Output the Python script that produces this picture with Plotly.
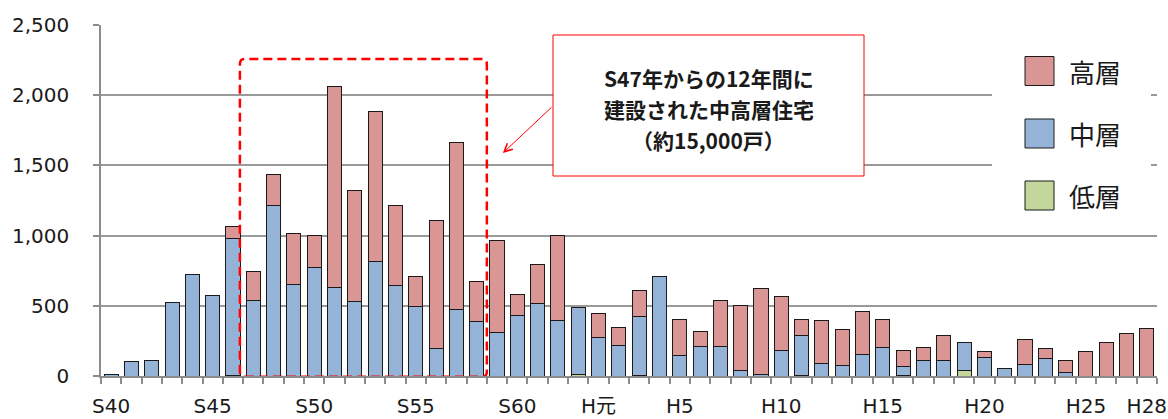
import plotly.graph_objects as go

categories = [f"S{n}" for n in range(40, 64)] + ["H元"] + [f"H{n}" for n in range(2, 29)]

# 低層 (low-rise), 中層 (mid-rise), 高層 (high-rise) — dwelling units per year
low_rise = [0, 0, 0, 0, 0, 0, 3, 0, 0, 0,
            0, 0, 0, 0, 0, 0, 0, 0, 0, 0,
            0, 0, 0, 12, 0, 0, 3, 0, 0, 0,
            0, 0, 0, 0, 5, 0, 0, 0, 0, 4,
            0, 0, 36, 0, 0, 0, 0, 0, 0, 0,
            0, 0]
mid_rise = [12, 106, 112, 527, 726, 570, 973, 539, 1212, 655,
            774, 632, 534, 819, 646, 498, 195, 472, 387, 312,
            430, 515, 396, 479, 276, 216, 424, 712, 145, 209,
            209, 38, 12, 185, 282, 88, 78, 152, 204, 62,
            111, 107, 204, 133, 57, 85, 124, 26, 0, 0,
            0, 0]
high_rise = [0, 0, 0, 0, 0, 0, 92, 207, 226, 361,
             228, 1431, 788, 1068, 570, 209, 914, 1190, 288, 654,
             152, 276, 608, 0, 166, 126, 183, 0, 254, 111,
             327, 465, 613, 383, 117, 309, 254, 306, 195, 119,
             93, 178, 0, 38, 0, 176, 71, 83, 173, 237,
             301, 340]

tick_labels = ["S40", "S45", "S50", "S55", "S60", "H元", "H5", "H10", "H15", "H20", "H25", "H28"]
y_ticks = [0, 500, 1000, 1500, 2000, 2500]

series_names = ["低層", "中層", "高層"]
series_colors = ["#C3D69B", "#95B3D7", "#D99694"]

callout_lines = ["S47年からの12年間に", "建設された中高層住宅", "（約15,000戸）"]

x = list(range(len(categories)))

W, H = 1168, 419
ML, MR, MT, MB = 101, 11, 25, 43
PW, PH = W - ML - MR, H - MT - MB


def px_x(p):
    return (p - ML) / PW


def px_y(p):
    return (H - MB - p) / PH


def nz(vals):
    return [v if v else None for v in vals]


fig = go.Figure()
for name, vals, col in zip(series_names, [low_rise, mid_rise, high_rise], series_colors):
    fig.add_trace(go.Bar(
        x=x, y=nz(vals), name=name,
        marker=dict(color=col, line=dict(color="#1a1a1a", width=1)),
        customdata=categories,
        hovertemplate="%{customdata} " + name + ": %{y}<extra></extra>",
    ))

FONT = "Verdana, DejaVu Sans, Noto Sans CJK JP, sans-serif"
CJK = "Noto Sans CJK JP, sans-serif"

fig.update_layout(
    width=W, height=H,
    margin=dict(l=ML, r=MR, t=MT, b=MB, autoexpand=False),
    barmode="stack", bargap=0.31,
    plot_bgcolor="white", paper_bgcolor="white",
    showlegend=False,
    font=dict(family=FONT, size=20, color="#1a1a1a"),
    xaxis=dict(
        range=[-0.5, len(categories) - 0.5],
        tickmode="array",
        tickvals=[categories.index(t) for t in tick_labels],
        ticktext=tick_labels,
        ticks="", showgrid=False,
        showline=True, linecolor="#8c8c8c", linewidth=1.5,
        ticklabelstandoff=11, automargin=False, ticklabeloverflow="allow",
        tickfont=dict(size=20, family=FONT),
        minor=dict(tickmode="linear", tick0=-0.5, dtick=1, ticks="outside",
                   ticklen=6, tickcolor="#8c8c8c", tickwidth=1.5, showgrid=False),
        zeroline=False,
    ),
    yaxis=dict(
        range=[0, 2500], tickmode="array", tickvals=y_ticks,
        tickformat=",", ticks="outside", ticklen=6, tickcolor="#8c8c8c", tickwidth=1.5,
        showgrid=True, gridcolor="#9a9a9a", gridwidth=1.5,
        showline=True, linecolor="#8c8c8c", linewidth=1.5,
        ticklabelstandoff=20, automargin=False,
        tickfont=dict(size=20, family=FONT),
        zeroline=False,
    ),
)

# dashed highlight rectangle with rounded corners (S47–S58)
x0, x1, y0, y1 = 6.34, 18.5, -6, 2258
rx, ry = 0.25, 36
path = (f"M {x0+rx},{y0} L {x1-rx},{y0} Q {x1},{y0} {x1},{y0+ry} "
        f"L {x1},{y1-ry} Q {x1},{y1} {x1-rx},{y1} L {x0+rx},{y1} "
        f"Q {x0},{y1} {x0},{y1-ry} L {x0},{y0+ry} Q {x0},{y0} {x0+rx},{y0} Z")
fig.add_shape(type="path", path=path, xref="x", yref="y", layer="above",
              line=dict(color="#FF0000", width=2.5, dash="9px,5px"))

# callout box
fig.add_shape(type="rect", xref="paper", yref="paper",
              x0=px_x(553), x1=px_x(864), y0=px_y(176), y1=px_y(35),
              line=dict(color="#FF0000", width=1), fillcolor="white", layer="above")
for line, yp in zip(callout_lines, [78, 109, 140]):
    fig.add_annotation(xref="paper", yref="paper", x=px_x(708.5), y=px_y(yp),
                       xanchor="center", yanchor="middle",
                       text=f"<b>{line}</b>", showarrow=False,
                       font=dict(family=CJK, size=21, color="#1a1a1a"))
fig.add_annotation(x=19.29, y=1588, xref="x", yref="y", text="",
                   showarrow=True, arrowhead=5, arrowsize=1.6, arrowwidth=1,
                   arrowcolor="#FF0000", ax=50, ay=-47)

# legend box
fig.add_shape(type="rect", xref="paper", yref="paper",
              x0=px_x(992), x1=px_x(1151), y0=px_y(225), y1=px_y(45),
              line=dict(width=0), fillcolor="white", layer="above")
leg_y = [71, 133.5, 195.5]
leg_order = [2, 1, 0]
for yc, k in zip(leg_y, leg_order):
    fig.add_shape(type="rect", xref="paper", yref="paper",
                  x0=px_x(1025), x1=px_x(1054), y0=px_y(yc + 14.5), y1=px_y(yc - 14.5),
                  fillcolor=series_colors[k], line=dict(color="#1a1a1a", width=1),
                  layer="above")
    fig.add_annotation(xref="paper", yref="paper", x=px_x(1067), y=px_y(yc),
                       xanchor="left", yanchor="middle", showarrow=False,
                       text=series_names[k],
                       font=dict(family=CJK, size=26, color="#1a1a1a"))

fig.write_html("out.html", config={"displayModeBar": False},
               post_script="document.body.style.margin='0';document.body.style.padding='0';")
